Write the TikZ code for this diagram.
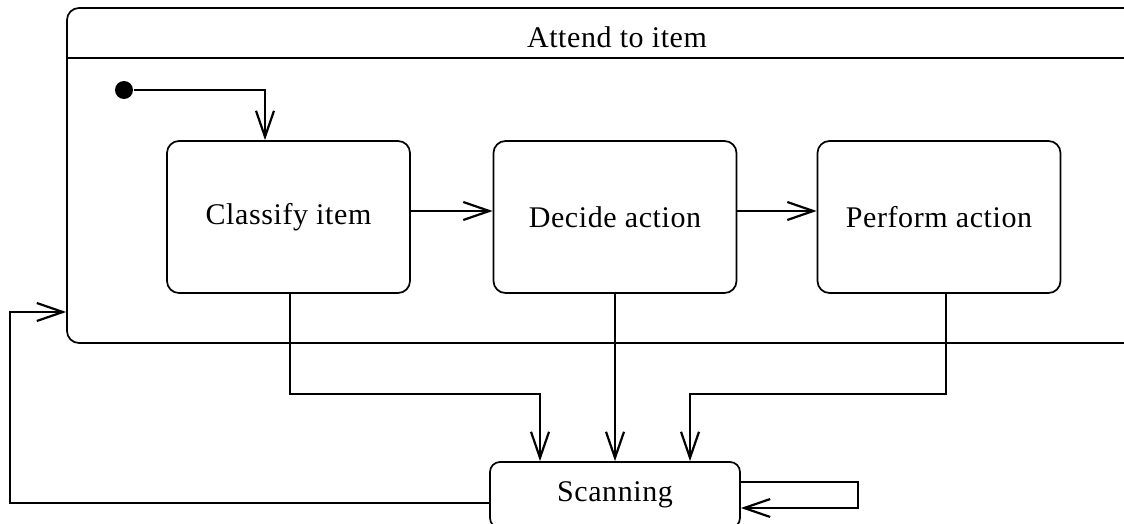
\documentclass[tikz,border=0pt]{standalone}
\usepackage{fontspec}
\setmainfont[LetterSpace=2]{Liberation Serif}
\usetikzlibrary{arrows.meta}
\begin{document}
\begin{tikzpicture}[x=1pt,y=-1pt,
  line width=1.7pt,
  arr/.style={-{Straight Barb[length=26pt,width=18pt,line width=2.2pt]}},
  state/.style={draw,rounded corners=12pt,minimum width=243pt,minimum height=152pt,inner sep=0pt},
  every node/.style={font=\fontsize{30}{34}\selectfont}]
\useasboundingbox (0,0) rectangle (1124,524);
\clip (0,0) rectangle (1124,524);
\node[draw,rounded corners=12pt,minimum width=1090pt,minimum height=335pt,inner sep=0pt] (attend) at (612,175.5) {};
\draw ([yshift=-51pt]attend.north west) -- ([yshift=-51pt]attend.north east);
\node (title) at (617,37) {Attend to item};
\node[circle,fill,minimum size=18pt,inner sep=0pt] (init) at (124,90) {};
\node[state] (classify) at (288.5,217) {Classify item};
\node[state] (decide) at (615,217) {Decide action};
\node[state] (perform) at (939,217) {Perform action};
\node[state,minimum width=250pt,minimum height=66pt,rounded corners=10pt] (scan) at (615,495) {Scanning};
\draw[arr] (init) -| ([xshift=-23.5pt]classify.north);
\draw[arr] (classify.east |- 0,211) -- (decide.west |- 0,211);
\draw[arr] (decide.east |- 0,211) -- (perform.west |- 0,211);
\draw[arr] ([xshift=1.5pt]classify.south) -- ++(0,100) -| ([xshift=-75pt]scan.north);
\draw[arr] (decide.south) -- (scan.north);
\draw[arr] ([xshift=7pt]perform.south) -- ++(0,100) -| ([xshift=75pt]scan.north);
\draw[arr] ([yshift=13pt]scan.east) -- ++(117,0) |- ([yshift=-13pt]scan.east);
\coordinate (lc) at (10,312);
\draw[arr] ([yshift=-8pt]scan.west) -| (lc) -- (attend.west |- lc);
\end{tikzpicture}
\end{document}
